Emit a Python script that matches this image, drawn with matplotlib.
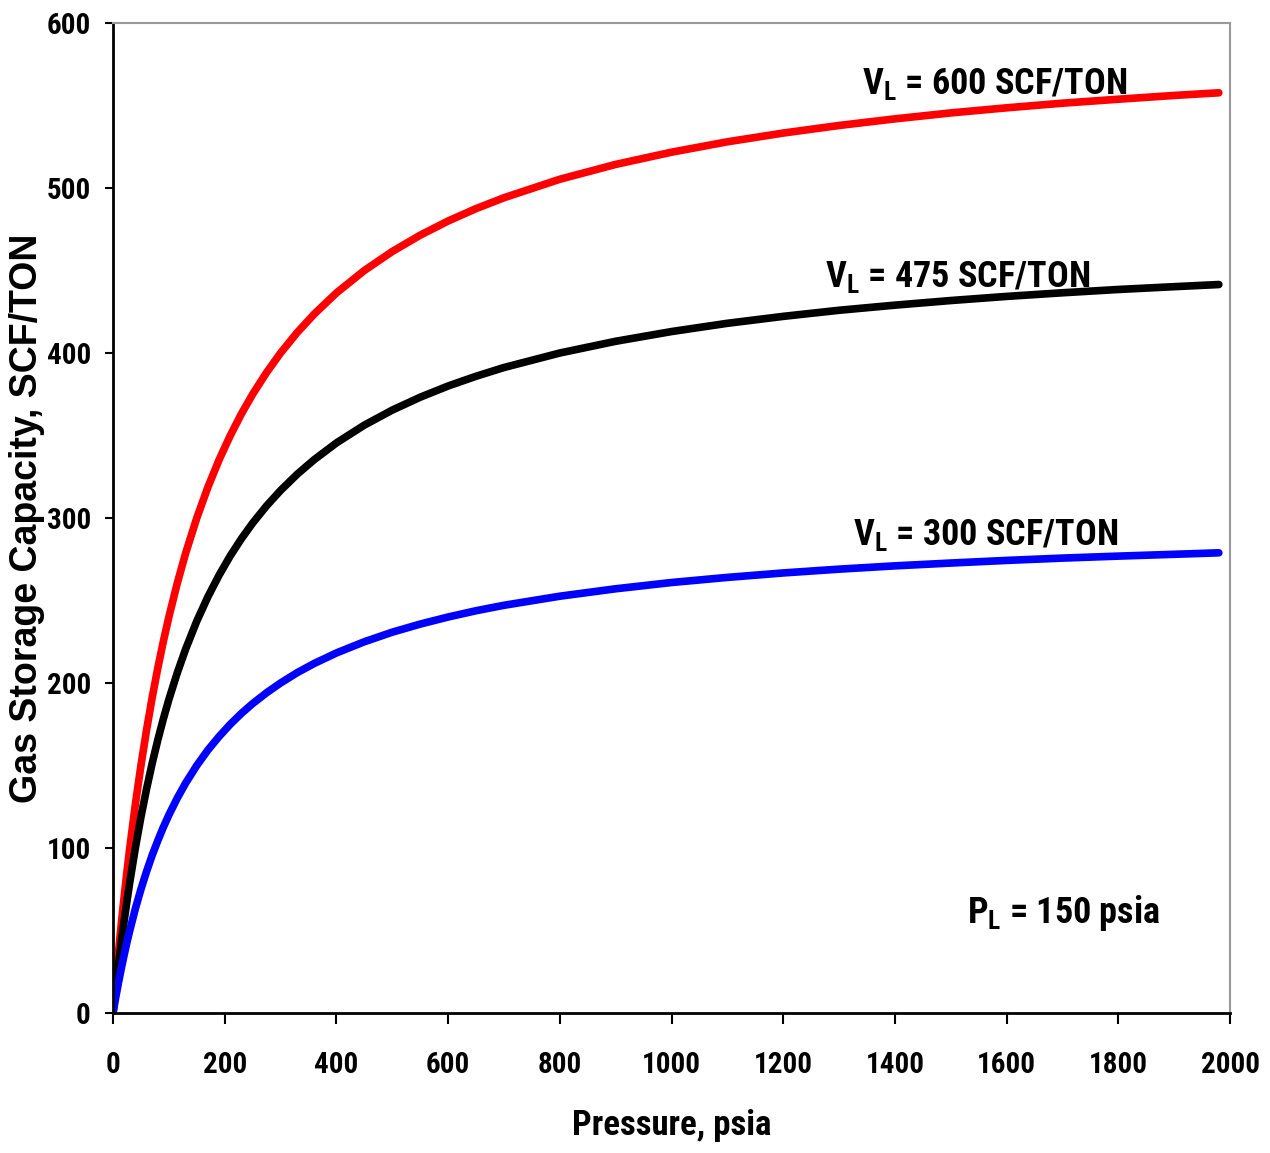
import matplotlib
matplotlib.use("Agg")
import matplotlib.pyplot as plt

# Data: pressure (psia) and gas storage capacity (SCF/TON)
pressure = [0, 5, 10, 15, 20, 25, 30, 40, 50, 60, 70, 80, 90, 100, 115, 130, 150,
            170, 190, 210, 230, 250, 275, 300, 330, 360, 400, 450, 500, 550, 600,
            650, 700, 800, 900, 1000, 1100, 1200, 1300, 1400, 1500, 1600, 1700,
            1800, 1900, 1980]
vl600 = [0, 19.4, 37.5, 54.5, 70.6, 85.7, 100.0, 126.3, 150.0, 171.4, 190.9,
         208.7, 225.0, 240.0, 260.4, 278.6, 300.0, 318.8, 335.3, 350.0, 363.2,
         375.0, 388.2, 400.0, 412.5, 423.5, 436.4, 450.0, 461.5, 471.4, 480.0,
         487.5, 494.1, 505.3, 514.3, 521.7, 528.0, 533.3, 537.9, 541.9, 545.5,
         548.6, 551.4, 553.8, 556.1, 557.7]
vl475 = [0, 15.3, 29.7, 43.2, 55.9, 67.9, 79.2, 100.0, 118.8, 135.7, 151.1,
         165.2, 178.1, 190.0, 206.1, 220.5, 237.5, 252.3, 265.4, 277.1, 287.5,
         296.9, 307.4, 316.7, 326.6, 335.3, 345.5, 356.3, 365.4, 373.2, 380.0,
         385.9, 391.2, 400.0, 407.1, 413.0, 418.0, 422.2, 425.9, 429.0, 431.8,
         434.3, 436.5, 438.5, 440.2, 441.5]
vl300 = [0, 9.7, 18.8, 27.3, 35.3, 42.9, 50.0, 63.2, 75.0, 85.7, 95.5,
         104.3, 112.5, 120.0, 130.2, 139.3, 150.0, 159.4, 167.6, 175.0, 181.6,
         187.5, 194.1, 200.0, 206.3, 211.8, 218.2, 225.0, 230.8, 235.7, 240.0,
         243.8, 247.1, 252.6, 257.1, 260.9, 264.0, 266.7, 269.0, 271.0, 272.7,
         274.3, 275.7, 276.9, 278.0, 278.9]

x_ticks = [0, 200, 400, 600, 800, 1000, 1200, 1400, 1600, 1800, 2000]
y_ticks = [0, 100, 200, 300, 400, 500, 600]

labels = ["V$_\\mathregular{L}$ = 600 SCF/TON",
          "V$_\\mathregular{L}$ = 475 SCF/TON",
          "V$_\\mathregular{L}$ = 300 SCF/TON"]
pl_label = "P$_\\mathregular{L}$ = 150 psia"
x_label = "Pressure, psia"
y_label = "Gas Storage Capacity, SCF/TON"

narrow = ["DejaVu Sans Condensed", "Roboto Condensed", "Liberation Sans Narrow",
          "Liberation Sans", "DejaVu Sans"]
wide = ["Liberation Sans", "DejaVu Sans"]
plt.rcParams["mathtext.default"] = "regular"

fig = plt.figure(figsize=(12.7, 11.53), dpi=100)
ax = fig.add_axes([0.08898, 0.12142, 0.87953, 0.85863])

ax.plot(pressure, vl600, color="#FF0000", lw=5.5, solid_capstyle="round")
ax.plot(pressure, vl475, color="#000000", lw=5.5, solid_capstyle="round")
ax.plot(pressure, vl300, color="#0000FF", lw=5.5, solid_capstyle="round")

ax.set_xlim(0, 2000)
ax.set_ylim(0, 600)
ax.set_xticks(x_ticks)
ax.set_yticks(y_ticks)
ax.set_xticklabels([str(v) for v in x_ticks], family=narrow, weight="bold", fontsize=21)
ax.set_yticklabels([str(v) for v in y_ticks], family=narrow, weight="bold", fontsize=21)
ax.tick_params(axis="x", direction="out", length=8, width=1.5, pad=19)
ax.tick_params(axis="y", direction="out", length=6, width=1.5, pad=10)

for s in ["left", "bottom"]:
    ax.spines[s].set_linewidth(2)
    ax.spines[s].set_color("black")
for s in ["top", "right"]:
    ax.spines[s].set_linewidth(1.5)
    ax.spines[s].set_color("#999999")

ax.set_xlabel(x_label, family=narrow, weight="bold", fontsize=25, labelpad=22)
ax.set_ylabel(y_label, family=wide, weight="bold", fontsize=27, labelpad=1)

tk = dict(family=narrow, weight="bold", fontsize=26, va="baseline", ha="left")
ax.text(1341, 557, labels[0], **tk)
ax.text(1275, 440, labels[1], **tk)
ax.text(1325, 283.6, labels[2], **tk)
ax.text(1529, 54.5, pl_label, **tk)

fig.savefig("out.png", dpi=100)
